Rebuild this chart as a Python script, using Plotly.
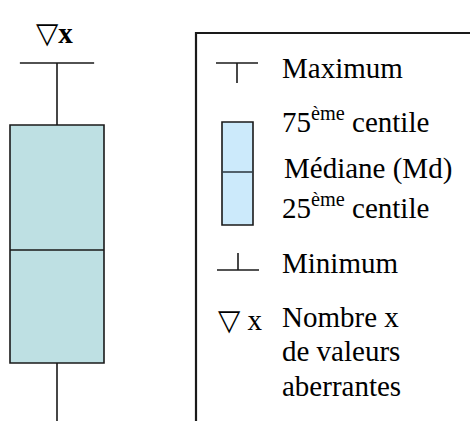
import plotly.graph_objects as go

# Box-plot statistics for the single example box (vertical scale in chart units)
box_position = [57]
upper_fence = [358]
q3_values = [296]
median_values = [171]
q1_values = [58]
lower_fence = [-40]

NABLA = "<span style='font-family:DejaVu Sans'>▽</span>"
outlier_label = NABLA + "<b>x</b>"
key_outlier_label = NABLA + " x"

# Key entries: label, left x, centre y
key_labels = [
    "Maximum",
    "75<sup>ème</sup> centile",
    "Médiane (Md)",
    "25<sup>ème</sup> centile",
    "Minimum",
    "Nombre x",
    "de valeurs",
    "aberrantes",
]
key_label_x = [280, 280, 282, 280, 280, 280, 280, 280]
key_label_y = [353.5, 301, 253, 215, 158, 104.5, 70, 35]

FONT = "Liberation Serif"
INK = "#1a1a1a"

fig = go.Figure()

fig.add_trace(go.Box(
    x=box_position,
    q1=q1_values,
    median=median_values,
    q3=q3_values,
    lowerfence=lower_fence,
    upperfence=upper_fence,
    width=94,
    whiskerwidth=0.79,
    fillcolor="#BEE0E3",
    line=dict(color=INK, width=1.6),
    boxpoints=False,
    hoverinfo="skip",
    showlegend=False,
))

shapes = []
# Key frame (left and top edges)
shapes.append(dict(type="line", x0=196, x1=196, y0=389, y1=-10,
                   line=dict(color=INK, width=2.2)))
shapes.append(dict(type="line", x0=195, x1=480, y0=388, y1=388,
                   line=dict(color=INK, width=2.2)))
# Maximum glyph
shapes.append(dict(type="line", x0=216, x1=258, y0=358, y1=358,
                   line=dict(color=INK, width=1.6)))
shapes.append(dict(type="line", x0=237, x1=237, y0=358, y1=338,
                   line=dict(color=INK, width=1.6)))
# Box glyph with median
shapes.append(dict(type="rect", x0=222, x1=253, y0=196, y1=299,
                   fillcolor="#CCEAFB", line=dict(color=INK, width=1.6)))
shapes.append(dict(type="line", x0=222, x1=253, y0=249, y1=249,
                   line=dict(color="#333f48", width=1.6)))
# Minimum glyph
shapes.append(dict(type="line", x0=217, x1=259, y0=151, y1=151,
                   line=dict(color=INK, width=1.6)))
shapes.append(dict(type="line", x0=238, x1=238, y0=168, y1=151,
                   line=dict(color=INK, width=1.6)))

annotations = []
annotations.append(dict(x=54, y=388, text=outlier_label, showarrow=False,
                        xanchor="center", yanchor="middle",
                        font=dict(family=FONT, size=29, color="#000")))
annotations.append(dict(x=216, y=101, text=key_outlier_label, showarrow=False,
                        xanchor="left", yanchor="middle",
                        font=dict(family=FONT, size=29, color="#000")))
for label, lx, ly in zip(key_labels, key_label_x, key_label_y):
    annotations.append(dict(x=lx, y=ly, text=label, showarrow=False,
                            xanchor="left", yanchor="middle",
                            font=dict(family=FONT, size=29, color="#000")))

fig.update_layout(
    width=470,
    height=421,
    margin=dict(l=0, r=0, t=0, b=0),
    paper_bgcolor="white",
    plot_bgcolor="white",
    font=dict(family=FONT),
    xaxis=dict(range=[0, 470], visible=False, fixedrange=True),
    yaxis=dict(range=[0, 421], visible=False, fixedrange=True),
    shapes=shapes,
    annotations=annotations,
    showlegend=False,
)

fig.write_html("out.html")
